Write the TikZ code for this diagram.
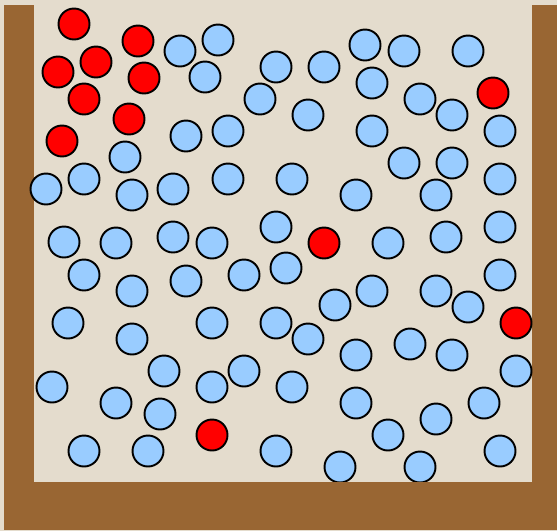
\documentclass[tikz,border=0pt]{standalone}
\usetikzlibrary{positioning}
\definecolor{sandbg}{RGB}{228,220,205}
\definecolor{wallbrown}{RGB}{153,102,51}
\definecolor{ballblue}{RGB}{153,204,255}
\definecolor{ballred}{RGB}{255,0,0}

\begin{document}
\begin{tikzpicture}[x=0.02cm, y=-0.02cm,
    ball/.style={draw=black, line width=1.1pt},
    wall/.style={fill=wallbrown}]

% === Fondo ===
\fill[sandbg] (0,0) rectangle (557,531);
\useasboundingbox (0,0) rectangle (557,531);

% === Paredes laterales ===
\fill[wall] (4,5) rectangle (34,530);
\fill[wall] (532,5) rectangle (557,530);

% === Moleculas de agua (azul) ===
\foreach \x/\y in {180/51, 218/40, 205/77, 260/99, 276/67, 324/67, 365/45,
    404/51, 468/51, 372/83, 420/99, 452/115, 308/115, 372/131, 500/131,
    186/136, 228/131, 125/157, 46/189, 84/179, 132/195, 173/189, 228/179,
    292/179, 356/195, 436/195, 500/179, 404/163, 452/163, 64/242, 116/243,
    173/237, 212/243, 276/227, 388/243, 446/237, 500/227, 84/275, 132/291,
    186/281, 244/275, 286/268, 500/275, 372/291, 436/291, 335/305, 468/307,
    68/323, 132/339, 212/323, 276/323, 308/339, 356/355, 410/344, 452/355,
    516/371, 164/371, 212/387, 244/371, 292/387, 52/387, 116/403, 160/414,
    356/403, 436/419, 484/403, 388/435, 84/451, 148/451, 276/451, 500/451,
    340/467, 420/467}
    \filldraw[ball, fill=ballblue] (\x,\y) circle (0.31cm);

% === Moleculas de colorante (rojo) ===
\foreach \x/\y in {74/24, 138/41, 58/72, 96/62, 144/78, 84/99, 129/119,
    62/141, 493/93, 324/243, 516/323, 212/435}
    \filldraw[ball, fill=ballred] (\x,\y) circle (0.31cm);

% === Fondo del recipiente ===
\fill[wall] (4,482) rectangle (557,530);

\end{tikzpicture}
\end{document}
